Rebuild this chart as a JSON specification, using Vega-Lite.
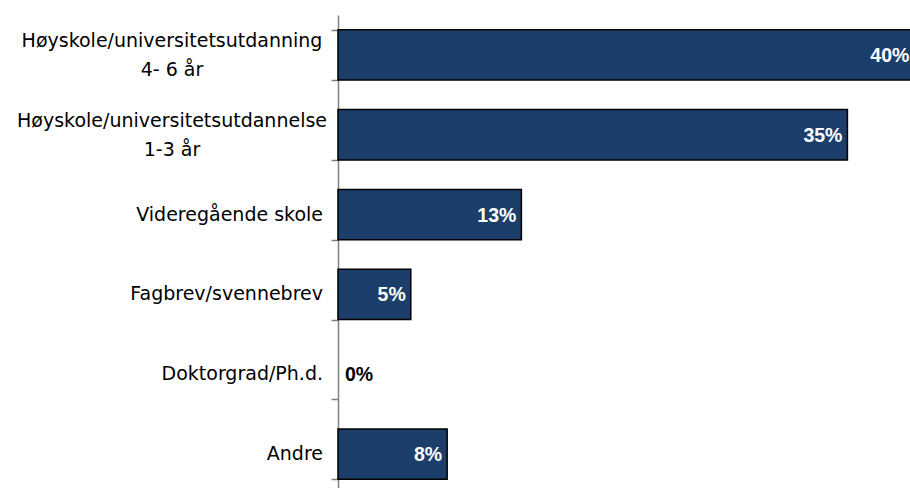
{
  "$schema": "https://vega.github.io/schema/vega-lite/v6.json",
  "width": 572,
  "height": 479,
  "autosize": {"type": "none"},
  "padding": {"left": 338, "top": 15, "right": 0, "bottom": 0},
  "background": "white",
  "config": {"view": {"stroke": null}, "font": "Liberation Sans"},
  "data": {
    "values": [
      {"kategori": "Høyskole/universitetsutdanning 4- 6 år", "linjer": ["Høyskole/universitetsutdanning", "4- 6 år"], "andel": 39.6, "tekst": "40%"},
      {"kategori": "Høyskole/universitetsutdannelse 1-3 år", "linjer": ["Høyskole/universitetsutdannelse", "1-3 år"], "andel": 35.0, "tekst": "35%"},
      {"kategori": "Videregående skole", "linjer": ["Videregående skole"], "andel": 12.6, "tekst": "13%"},
      {"kategori": "Fagbrev/svennebrev", "linjer": ["Fagbrev/svennebrev"], "andel": 5.0, "tekst": "5%"},
      {"kategori": "Doktorgrad/Ph.d.", "linjer": ["Doktorgrad/Ph.d."], "andel": 0, "tekst": "0%"},
      {"kategori": "Andre", "linjer": ["Andre"], "andel": 7.5, "tekst": "8%"}
    ]
  },
  "encoding": {
    "y": {
      "field": "kategori",
      "type": "nominal",
      "sort": [
        "Høyskole/universitetsutdanning 4- 6 år",
        "Høyskole/universitetsutdannelse 1-3 år",
        "Videregående skole",
        "Fagbrev/svennebrev",
        "Doktorgrad/Ph.d.",
        "Andre"
      ],
      "scale": {"paddingInner": 0.37, "paddingOuter": 0.185},
      "axis": {
        "title": null,
        "labels": false,
        "tickBand": "extent",
        "tickSize": 7,
        "tickColor": "#808080",
        "tickWidth": 1.5,
        "domainColor": "#808080",
        "domainWidth": 1.5
      }
    },
    "x": {
      "field": "andel",
      "type": "quantitative",
      "scale": {"domain": [0, 39.3], "nice": false, "zero": true},
      "axis": null
    }
  },
  "layer": [
    {
      "transform": [{"filter": "datum.andel > 0"}],
      "mark": {"type": "bar", "color": "#1b3e6b", "stroke": "black", "strokeWidth": 1.5}
    },
    {
      "transform": [{"filter": "datum.andel > 0"}],
      "mark": {"type": "text", "align": "right", "baseline": "middle", "dx": -5, "dy": 1, "font": "Liberation Sans", "fontSize": 19.5, "fontWeight": "bold", "color": "white"},
      "encoding": {"text": {"field": "tekst"}}
    },
    {
      "transform": [{"filter": "datum.andel <= 0"}],
      "mark": {"type": "text", "align": "left", "baseline": "middle", "dx": 7, "dy": 1, "font": "Liberation Sans", "fontSize": 19.5, "fontWeight": "bold", "color": "black"},
      "encoding": {"text": {"field": "tekst"}}
    },
    {
      "transform": [{"filter": "length(datum.linjer) == 1"}],
      "mark": {"type": "text", "align": "right", "baseline": "middle", "dx": -15, "font": "DejaVu Sans", "fontSize": 19, "color": "black"},
      "encoding": {"x": {"datum": 0}, "text": {"field": "linjer"}}
    },
    {
      "transform": [{"filter": "length(datum.linjer) > 1"}],
      "mark": {"type": "text", "align": "center", "baseline": "middle", "dx": -166, "dy": -14, "lineHeight": 29, "font": "DejaVu Sans", "fontSize": 19, "color": "black"},
      "encoding": {"x": {"datum": 0}, "text": {"field": "linjer"}}
    }
  ]
}
